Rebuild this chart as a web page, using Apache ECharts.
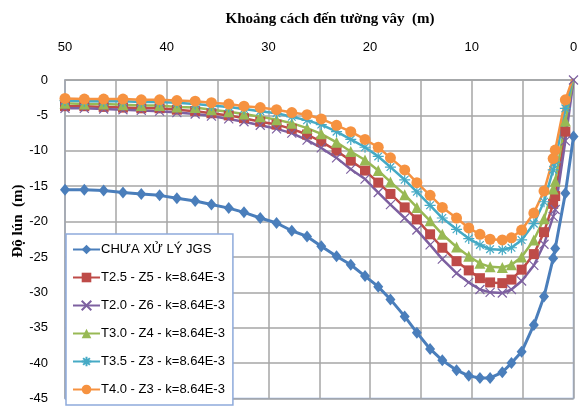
<!DOCTYPE html>
<html>
<head>
<meta charset="utf-8">
<script src="https://cdn.jsdelivr.net/npm/echarts@6/dist/echarts.min.js"></script>
<style>
  html, body { margin: 0; padding: 0; background: #fff; }
  #chart { width: 584px; height: 408px; }
</style>
</head>
<body>
<div id="chart"></div>
<script>
// distance from the wall (m), same mesh nodes for every series
const distance = [50, 48.1, 46.2, 44.3, 42.5, 40.7, 39.0, 37.2, 35.6, 33.9, 32.4, 30.8, 29.2, 27.7, 26.2, 24.8, 23.3, 21.9, 20.5, 19.2,
  18.0, 16.6, 15.4, 14.1, 12.9, 11.5, 10.3, 9.2, 8.2, 7.0, 6.1, 5.1, 3.9, 2.9, 2.0, 1.8, 0.8, 0];

const untreated = [-15.5, -15.5, -15.6, -15.9, -16.1, -16.3, -16.7, -17.1, -17.6, -18.1, -18.7, -19.5, -20.2, -21.3, -22.1, -23.5, -24.9, -26.1, -27.7, -29.2,
  -31.0, -33.4, -35.7, -38.0, -39.6, -41.0, -41.8, -42.1, -42.1, -41.3, -40.0, -38.4, -34.6, -30.6, -25.2, -23.8, -16.0, -8.0];
const t25z5 = [-3.7, -3.7, -3.8, -3.9, -4.0, -4.0, -4.2, -4.4, -4.7, -5.0, -5.4, -5.9, -6.3, -6.9, -7.7, -8.7, -10.0, -11.4, -12.8, -14.5,
  -16.1, -18.0, -19.7, -21.8, -23.7, -25.6, -26.9, -28.0, -28.6, -28.7, -28.2, -26.8, -24.6, -21.5, -17.5, -16.4, -7.3, 0.2];
const t20z6 = [-4.0, -4.0, -4.1, -4.2, -4.3, -4.4, -4.6, -4.8, -5.1, -5.5, -5.9, -6.4, -6.9, -7.5, -8.5, -9.6, -11.0, -12.6, -14.0, -15.9,
  -17.6, -19.5, -21.2, -23.3, -25.3, -27.3, -28.6, -29.6, -30.0, -30.1, -29.6, -28.4, -26.2, -23.2, -19.3, -18.3, -8.6, 0];
const t30z4 = [-3.3, -3.4, -3.4, -3.5, -3.6, -3.6, -3.8, -3.9, -4.2, -4.5, -4.8, -5.2, -5.6, -6.1, -6.8, -7.6, -8.8, -10.1, -11.3, -12.8,
  -14.4, -16.2, -18.0, -19.9, -21.8, -23.6, -24.9, -25.9, -26.4, -26.5, -26.1, -25.0, -22.6, -19.6, -15.4, -14.3, -5.8, 0.3];
const t35z3 = [-2.9, -3.0, -3.0, -3.0, -3.1, -3.1, -3.2, -3.4, -3.6, -3.8, -4.1, -4.4, -4.7, -5.2, -5.7, -6.3, -7.3, -8.4, -9.5, -10.8,
  -12.3, -14.1, -15.8, -17.7, -19.5, -21.1, -22.4, -23.3, -23.9, -24.0, -23.7, -22.6, -20.3, -17.2, -12.7, -11.6, -4.0, 0.5];
const t40z3 = [-2.6, -2.7, -2.7, -2.7, -2.8, -2.8, -2.9, -3.0, -3.2, -3.4, -3.7, -3.9, -4.2, -4.6, -4.9, -5.5, -6.4, -7.3, -8.4, -9.5,
  -11.0, -12.7, -14.5, -16.3, -18.0, -19.5, -20.9, -21.8, -22.5, -22.6, -22.3, -21.2, -18.8, -15.7, -11.1, -9.9, -2.8, 0.5];

const seriesNames = ['CHƯA XỬ LÝ JGS', 'T2.5 - Z5 - k=8.64E-3', 'T2.0 - Z6 - k=8.64E-3', 'T3.0 - Z4 - k=8.64E-3', 'T3.5 - Z3 - k=8.64E-3', 'T4.0 - Z3 - k=8.64E-3'];
const seriesValues = [untreated, t25z5, t20z6, t30z4, t35z3, t40z3];

const xMark = 'path://M0,0 L10,10 M10,0 L0,10';
const starMark = 'path://M5,0 L5,10 M0,5 L10,5 M1.5,1.5 L8.5,8.5 M8.5,1.5 L1.5,8.5';
const looks = [
  { color: '#4A7EBB', symbol: 'diamond', size: [10, 12], width: 3 },
  { color: '#BE4B48', symbol: 'rect', size: 10, width: 2.5 },
  { color: '#7D60A0', symbol: xMark, size: 9, width: 2.5, stroke: true },
  { color: '#98B954', symbol: 'triangle', size: 11, width: 2.5 },
  { color: '#46AAC5', symbol: starMark, size: 11, width: 2.5, stroke: true },
  { color: '#F69240', symbol: 'circle', size: 11, width: 2.5 }
];

const series = seriesNames.map((name, i) => {
  const l = looks[i];
  return {
    name: name,
    type: 'line',
    data: distance.map((d, j) => [d, seriesValues[i][j]]),
    symbol: l.symbol,
    symbolSize: l.size,
    showAllSymbol: true,
    clip: true,
    lineStyle: { color: l.color, width: l.width },
    itemStyle: l.stroke
      ? { color: l.color, borderColor: l.color, borderWidth: 1.2 }
      : { color: l.color, borderWidth: 0 }
  };
});

const gridColor = '#A6A6A6';
const chart = echarts.init(document.getElementById('chart'));
chart.setOption({
  animation: false,
  backgroundColor: '#fff',
  textStyle: { fontFamily: 'Liberation Sans, Arial, sans-serif' },
  grid: { left: 65, right: 10.5, top: 80, bottom: 9.5, show: true, borderColor: '#8EAADB', borderWidth: 1.5, backgroundColor: 'transparent' },
  xAxis: {
    type: 'value', position: 'top', inverse: true, min: 0, max: 50, interval: 10,
    axisLine: { show: true, lineStyle: { color: gridColor, width: 1.5 } },
    axisTick: { show: false },
    axisLabel: { margin: 26, color: '#000', fontSize: 13 },
    splitLine: { show: true, lineStyle: { color: gridColor, width: 1.5 } },
    minorTick: { show: false, splitNumber: 2 },
    minorSplitLine: { show: true, lineStyle: { color: gridColor, width: 1.5 } }
  },
  yAxis: {
    type: 'value', min: -45, max: 0, interval: 5,
    axisLine: { show: false },
    axisTick: { show: false },
    axisLabel: { margin: 17, color: '#000', fontSize: 13 },
    splitLine: { show: true, lineStyle: { color: gridColor, width: 1.5 } }
  },
  legend: {
    orient: 'vertical', left: 66, top: 234,
    itemWidth: 27, itemHeight: 12, itemGap: 15,
    backgroundColor: '#fff', borderColor: '#8EAADB', borderWidth: 1.5,
    padding: [9, 8, 9, 6],
    textStyle: { fontSize: 13, color: '#000', padding: [0, 0, 0, -4] },
    data: seriesNames
  },
  graphic: [
    { type: 'text', x: 330, y: 19, style: { text: 'Khoảng cách đến tường vây  (m)', font: 'bold 15px "Liberation Serif", "Times New Roman", serif', fill: '#000', textAlign: 'center', textVerticalAlign: 'middle' } },
    { type: 'text', x: 18, y: 221, rotation: Math.PI / 2, style: { text: 'Độ lún  (m)', font: 'bold 15px "Liberation Serif", "Times New Roman", serif', fill: '#000', textAlign: 'center', textVerticalAlign: 'middle' } }
  ],
  series: series
});
</script>
</body>
</html>
